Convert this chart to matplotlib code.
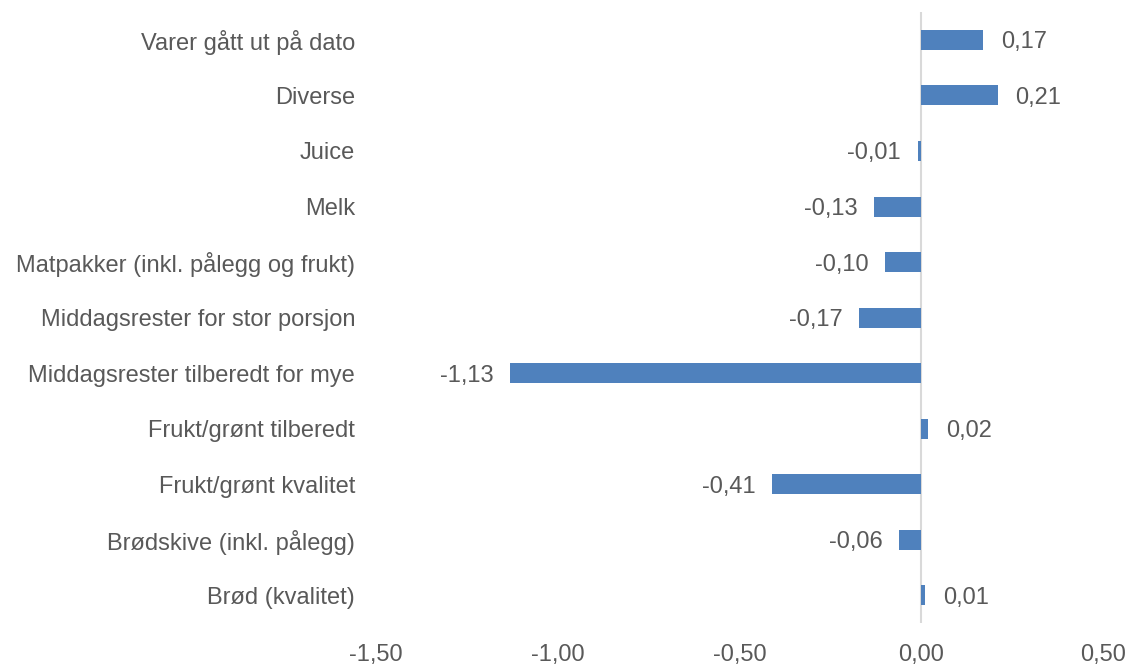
import matplotlib
matplotlib.use('Agg')
import matplotlib.pyplot as plt

categories = ['Varer gått ut på dato', 'Diverse', 'Juice', 'Melk',
              'Matpakker (inkl. pålegg og frukt)', 'Middagsrester for stor porsjon',
              'Middagsrester tilberedt for mye', 'Frukt/grønt tilberedt',
              'Frukt/grønt kvalitet', 'Brødskive (inkl. pålegg)', 'Brød (kvalitet)']
values = [0.17, 0.21, -0.01, -0.13, -0.10, -0.17, -1.13, 0.02, -0.41, -0.06, 0.01]
xticks = [-1.5, -1.0, -0.5, 0.0, 0.5]

plt.rcParams['font.family'] = ['Liberation Sans', 'DejaVu Sans']
txt = '#595959'
fs = 17

fig = plt.figure(figsize=(11.28, 6.64), dpi=100)
ax = fig.add_axes([0.3333, 0.0617, 0.6445, 0.920])

pos = list(range(len(categories)))[::-1]
ax.barh(pos, values, height=0.36, color='#4F81BD', zorder=2)
ax.axvline(0, color='#D9D9D9', lw=1.5, zorder=1)

for y, v in zip(pos, values):
    lab = ('%.2f' % v).replace('.', ',')
    if v >= 0:
        ax.annotate(lab, (v, y), xytext=(13, 0), textcoords='offset points',
                    ha='left', va='center_baseline', fontsize=fs, color=txt)
    else:
        ax.annotate(lab, (v, y), xytext=(-12, 0), textcoords='offset points',
                    ha='right', va='center_baseline', fontsize=fs, color=txt)

ax.set_xlim(-1.5, 0.5)
ax.set_ylim(-0.5, len(categories) - 0.5)
ax.set_xticks(xticks)
ax.set_xticklabels([('%.2f' % t).replace('.', ',') for t in xticks], fontsize=fs, color=txt)
ax.set_yticks(pos)
ax.set_yticklabels(categories, fontsize=fs, color=txt)
ax.tick_params(axis='both', length=0)
ax.tick_params(axis='y', pad=15)
ax.tick_params(axis='x', pad=15)
for s in ax.spines.values():
    s.set_visible(False)

fig.savefig('out.png', dpi=100)
